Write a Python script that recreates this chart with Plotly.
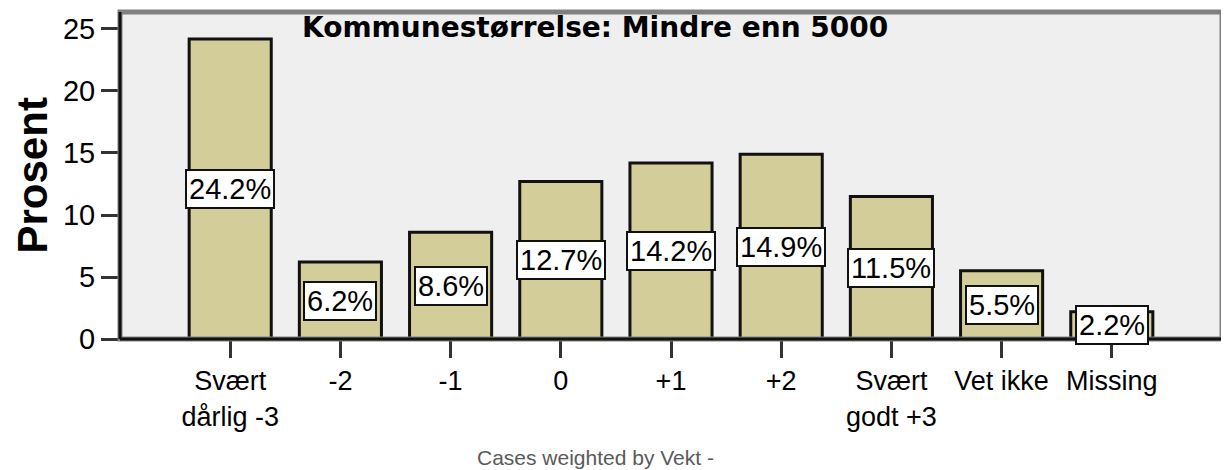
import plotly.graph_objects as go

categories = ["Svært<br>dårlig -3", "-2", "-1", "0", "+1", "+2", "Svært<br>godt +3", "Vet ikke", "Missing"]
values = [24.2, 6.2, 8.6, 12.7, 14.2, 14.9, 11.5, 5.5, 2.2]
labels = ["24.2%", "6.2%", "8.6%", "12.7%", "14.2%", "14.9%", "11.5%", "5.5%", "2.2%"]
y_ticks = [0, 5, 10, 15, 20, 25]
panel_title = "Kommunestørrelse: Mindre enn 5000"
y_title = "Prosent"
footer = "Cases weighted by Vekt -"

# page body adds an 8px offset; compensate so the figure lands at the target pixels
OFF = 8
W, H = 1229 - OFF, 470 - OFF
left_px, top_px, right_px, bottom_px = 120 - OFF, 12 - OFF, 1222 - OFF, 339 - OFF
ml, mt = left_px, top_px
mr, mb = W - right_px, H - bottom_px
pw = W - ml - mr
ph = H - mt - mb

fig = go.Figure()
fig.add_trace(go.Bar(
    x=list(range(len(categories))), y=values,
    marker=dict(color="#D3CE99", line=dict(color="#111111", width=3)),
    width=0.745, hoverinfo="skip",
))

annotations = []
for i, (v, t) in enumerate(zip(values, labels)):
    annotations.append(dict(
        x=i, y=v / 2, xref="x", yref="y", text=t, showarrow=False,
        xanchor="center", yanchor="middle",
        font=dict(family="Liberation Sans, Arial", size=29, color="black"),
        bgcolor="white", bordercolor="#111111", borderwidth=2, borderpad=2,
    ))

annotations.append(dict(
    x=(595 - OFF - ml) / pw, y=1, xref="paper", yref="paper", xanchor="center", yanchor="top", yshift=3,
    text=panel_title, showarrow=False,
    font=dict(family="DejaVu Sans", size=28, color="black", weight="bold"),
))
annotations.append(dict(
    x=(32 - OFF - ml) / pw, y=0.5, xref="paper", yref="paper", text=y_title,
    xanchor="center", yanchor="middle",
    textangle=-90, showarrow=False,
    font=dict(family="Liberation Sans, Arial", size=42, color="black", weight="bold"),
))
annotations.append(dict(
    x=(595 - OFF - ml) / pw, y=-(457 - OFF - (mt + ph)) / ph, xref="paper", yref="paper",
    xanchor="center", yanchor="middle",
    text=footer, showarrow=False,
    font=dict(family="Liberation Sans, Arial", size=21, color="#5a5a5a"),
))

shapes = [
    dict(type="rect", xref="paper", yref="paper", x0=0, x1=1, y0=0, y1=1,
         line=dict(color="#808080", width=5), fillcolor="rgba(0,0,0,0)", layer="above"),
    dict(type="line", xref="paper", yref="paper", x0=0, x1=0, y0=0, y1=1,
         line=dict(color="#111111", width=3), layer="above"),
    dict(type="line", xref="paper", yref="paper", x0=0, x1=1, y0=0, y1=0,
         line=dict(color="#111111", width=3), layer="above"),
]

fig.update_layout(
    width=W, height=H,
    margin=dict(l=ml, r=mr, t=mt, b=mb, autoexpand=False),
    paper_bgcolor="white", plot_bgcolor="#EFEFEF",
    showlegend=False,
    annotations=annotations, shapes=shapes,
    xaxis=dict(
        range=[-1, len(categories)], tickmode="array",
        tickvals=list(range(len(categories))), ticktext=categories,
        ticks="outside", ticklen=18, tickwidth=3, tickcolor="#333333",
        showgrid=False, zeroline=False, showline=False, automargin=False,
        tickfont=dict(family="Liberation Sans, Arial", size=27, color="black"),
        fixedrange=True,
    ),
    yaxis=dict(
        range=[0, 26.37], tickmode="array", tickvals=y_ticks,
        ticks="outside", ticklen=18, tickwidth=3, tickcolor="#333333",
        showgrid=False, zeroline=False, showline=False, automargin=False,
        tickfont=dict(family="Liberation Sans, Arial", size=29, color="black"),
        fixedrange=True,
    ),
)

fig.write_html("out.html")
